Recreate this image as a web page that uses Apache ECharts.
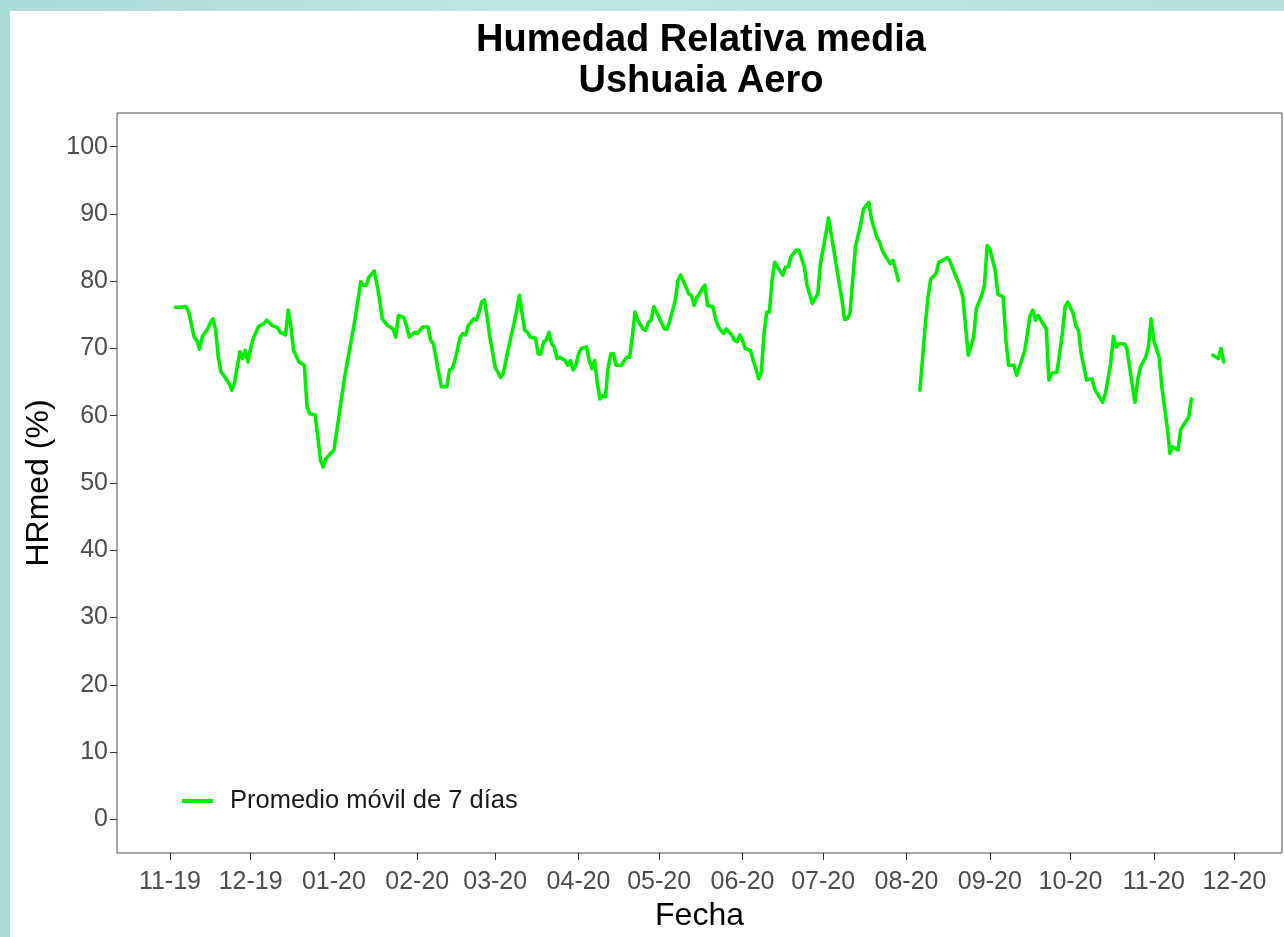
<!DOCTYPE html>
<html>
<head>
<meta charset="utf-8">
<script src="https://cdn.jsdelivr.net/npm/echarts@6/dist/echarts.min.js"></script>
<style>
  html, body { margin: 0; padding: 0; }
  body {
    width: 1284px; height: 937px; overflow: hidden;
    background: linear-gradient(90deg, #a9dcd7 0%, #bfe6e2 40%, #b4e1dc 100%);
  }
  #chart {
    position: absolute; left: 10px; top: 11px;
    width: 1274px; height: 926px; background: #ffffff;
  }
</style>
</head>
<body>
<div id="chart"></div>
<script>
// Humedad relativa media diaria, promedio móvil de 7 días (Ushuaia Aero)
const fechas = [
  '2019-11-03','2019-11-07','2019-11-08','2019-11-10','2019-11-11','2019-11-12','2019-11-13','2019-11-15',
  '2019-11-16','2019-11-17','2019-11-18','2019-11-19','2019-11-20','2019-11-21','2019-11-23','2019-11-24',
  '2019-11-25','2019-11-26','2019-11-27','2019-11-28','2019-11-29','2019-11-30',
  '2019-12-01','2019-12-02','2019-12-04','2019-12-06','2019-12-07','2019-12-09','2019-12-11','2019-12-12',
  '2019-12-14','2019-12-15','2019-12-16','2019-12-17','2019-12-19','2019-12-21','2019-12-22','2019-12-23',
  '2019-12-25','2019-12-26','2019-12-27','2019-12-28','2019-12-29','2019-12-31',
  '2020-01-01','2020-01-02','2020-01-03','2020-01-05','2020-01-07','2020-01-09','2020-01-11','2020-01-12',
  '2020-01-13','2020-01-14','2020-01-16','2020-01-17','2020-01-18','2020-01-19','2020-01-21','2020-01-23',
  '2020-01-24','2020-01-25','2020-01-27','2020-01-28','2020-01-29','2020-01-31',
  '2020-02-01','2020-02-03','2020-02-05','2020-02-06','2020-02-07','2020-02-09','2020-02-10','2020-02-12',
  '2020-02-13','2020-02-14','2020-02-15','2020-02-17','2020-02-18','2020-02-19','2020-02-20','2020-02-22',
  '2020-02-23','2020-02-24','2020-02-25','2020-02-26','2020-02-27','2020-02-28',
  '2020-03-01','2020-03-03','2020-03-04','2020-03-06','2020-03-08','2020-03-09','2020-03-10','2020-03-11',
  '2020-03-12','2020-03-13','2020-03-14','2020-03-16','2020-03-17','2020-03-18','2020-03-19','2020-03-20',
  '2020-03-21','2020-03-22','2020-03-23','2020-03-24','2020-03-25','2020-03-27','2020-03-28','2020-03-29',
  '2020-03-30','2020-03-31',
  '2020-04-01','2020-04-02','2020-04-04','2020-04-05','2020-04-06','2020-04-07','2020-04-08','2020-04-09',
  '2020-04-10','2020-04-11','2020-04-12','2020-04-13','2020-04-14','2020-04-15','2020-04-17','2020-04-18',
  '2020-04-19','2020-04-20','2020-04-21','2020-04-22','2020-04-23','2020-04-25','2020-04-26','2020-04-27',
  '2020-04-28','2020-04-29','2020-04-30',
  '2020-05-02','2020-05-03','2020-05-04','2020-05-05','2020-05-06','2020-05-07','2020-05-08','2020-05-09',
  '2020-05-11','2020-05-12','2020-05-13','2020-05-14','2020-05-15','2020-05-16','2020-05-17','2020-05-18',
  '2020-05-19','2020-05-21','2020-05-22','2020-05-23','2020-05-24','2020-05-25','2020-05-26','2020-05-28',
  '2020-05-29','2020-05-30','2020-05-31',
  '2020-06-01','2020-06-02','2020-06-04','2020-06-05','2020-06-06','2020-06-07','2020-06-08','2020-06-09',
  '2020-06-10','2020-06-11','2020-06-12','2020-06-13','2020-06-14','2020-06-16','2020-06-17','2020-06-18',
  '2020-06-19','2020-06-21','2020-06-22','2020-06-24','2020-06-25','2020-06-27','2020-06-29','2020-06-30',
  '2020-07-02','2020-07-03','2020-07-04','2020-07-06','2020-07-08','2020-07-09','2020-07-10','2020-07-11',
  '2020-07-12','2020-07-13','2020-07-15','2020-07-16','2020-07-18','2020-07-19','2020-07-21','2020-07-22',
  '2020-07-23','2020-07-24','2020-07-26','2020-07-27','2020-07-28','2020-07-29','2020-07-30',
  '2020-08-06','2020-08-08','2020-08-09','2020-08-10','2020-08-12','2020-08-13','2020-08-15','2020-08-16',
  '2020-08-17','2020-08-19','2020-08-21','2020-08-22','2020-08-23','2020-08-24','2020-08-26','2020-08-27',
  '2020-08-29','2020-08-30','2020-08-31',
  '2020-09-01','2020-09-03','2020-09-04','2020-09-06','2020-09-07','2020-09-08','2020-09-10','2020-09-11',
  '2020-09-12','2020-09-14','2020-09-16','2020-09-17','2020-09-18','2020-09-19','2020-09-20','2020-09-22',
  '2020-09-23','2020-09-24','2020-09-26','2020-09-28','2020-09-29','2020-09-30',
  '2020-10-02','2020-10-03','2020-10-04','2020-10-05','2020-10-07','2020-10-09','2020-10-10','2020-10-11',
  '2020-10-13','2020-10-14','2020-10-16','2020-10-17','2020-10-18','2020-10-19','2020-10-21','2020-10-22',
  '2020-10-23','2020-10-25','2020-10-26','2020-10-27','2020-10-29','2020-10-30','2020-10-31',
  '2020-11-01','2020-11-03','2020-11-04','2020-11-06','2020-11-07','2020-11-08','2020-11-10','2020-11-11',
  '2020-11-12','2020-11-14','2020-11-15','2020-11-16',
  '2020-11-23','2020-11-25','2020-11-26','2020-11-27'
];

const hrmed = [
  76.1, 76.2, 75.4, 71.7, 71.2, 69.9, 71.7, 72.9,
  73.8, 74.4, 72.7, 68.7, 66.5, 66.0, 64.8, 63.8,
  64.8, 67.2, 69.5, 68.5, 69.7, 68.0,
  70.0, 71.5, 73.3, 73.7, 74.2, 73.4, 73.1, 72.4,
  72.0, 75.7, 73.2, 69.7, 68.0, 67.5, 61.3, 60.3,
  60.1, 56.9, 53.4, 52.4, 53.6, 54.5,
  54.9, 57.6, 60.3, 65.8, 70.2, 74.7, 79.9, 79.4,
  79.4, 80.6, 81.5, 79.6, 77.2, 74.4, 73.4, 72.9,
  71.7, 74.9, 74.6, 73.4, 71.7, 72.4,
  72.2, 73.2, 73.2, 71.2, 70.7, 66.3, 64.3, 64.3,
  66.8, 67.0, 68.2, 71.7, 72.2, 72.0, 73.4, 74.4,
  74.2, 75.4, 76.9, 77.2, 74.7, 71.7,
  67.2, 65.7, 66.3, 70.2, 73.7, 75.7, 77.9, 75.2,
  72.7, 72.4, 71.7, 71.5, 69.2, 69.2, 71.0, 71.2,
  72.4, 70.7, 70.2, 68.5, 68.7, 68.2, 67.5, 68.2,
  66.8, 67.5,
  69.2, 70.0, 70.2, 68.2, 67.0, 68.2, 64.8, 62.5,
  63.0, 62.8, 67.2, 69.2, 69.2, 67.5, 67.5, 68.2,
  68.7, 68.7, 71.7, 75.4, 74.2, 72.9, 72.7, 73.9,
  74.2, 76.2, 75.4,
  73.7, 72.9, 72.9, 74.2, 75.7, 77.2, 80.1, 80.9,
  79.1, 78.1, 77.9, 76.4, 77.6, 78.1, 78.9, 79.4,
  76.4, 76.2, 74.4, 73.2, 72.7, 72.2, 72.9, 72.0,
  71.2, 71.0, 72.0,
  71.2, 70.0, 69.7, 68.2, 67.0, 65.5, 66.5, 72.2,
  75.4, 75.4, 80.1, 82.8, 82.1, 80.9, 82.1, 82.1,
  83.6, 84.6, 84.6, 82.1, 79.4, 76.7, 78.1, 82.6,
  87.0, 89.4, 87.0, 82.1, 77.2, 74.3, 74.4, 75.2,
  80.1, 85.1, 88.5, 90.7, 91.7, 89.2, 86.5, 85.8,
  84.6, 83.8, 82.6, 83.1, 81.6, 80.1, null,
  63.8, 73.5, 77.6, 80.3, 81.1, 82.8, 83.2, 83.5,
  83.1, 81.1, 79.1, 77.6, 73.2, 69.0, 71.7, 75.9,
  77.9, 79.4, 85.3,
  84.8, 81.6, 78.1, 77.6, 71.2, 67.5, 67.5, 66.0,
  67.2, 69.7, 74.9, 75.7, 74.2, 74.9, 74.2, 72.9,
  65.3, 66.3, 66.5, 72.2, 76.2, 76.9,
  75.2, 73.4, 72.7, 69.2, 65.3, 65.5, 64.0, 63.3,
  62.0, 63.3, 67.8, 71.8, 70.2, 70.7, 70.7, 70.0,
  67.2, 62.0, 65.3, 67.2, 68.7, 70.2, 74.4,
  71.2, 68.7, 64.3, 58.3, 54.4, 55.4, 54.9, 57.9,
  58.6, 59.8, 62.5, null,
  69.0, 68.5, 70.0, 68.0
];

// Marcas del eje X: primer día de cada mes
const mesesEje = [
  '2019-11-01','2019-12-01','2020-01-01','2020-02-01','2020-03-01','2020-04-01','2020-05-01',
  '2020-06-01','2020-07-01','2020-08-01','2020-09-01','2020-10-01','2020-11-01','2020-12-01'
];
const ticksY = [0, 10, 20, 30, 40, 50, 60, 70, 80, 90, 100];

// Período cubierto por la serie (para la expansión del 5 % del eje)
const inicioSerie = '2019-11-01';
const finSerie = '2020-11-29';

const ts = s => Date.parse(s + 'T00:00:00Z');
const pad2 = n => (n < 10 ? '0' : '') + n;
const serie = fechas.map((f, i) => [ts(f), hrmed[i]]);
const t0 = ts(inicioSerie), t1 = ts(finSerie);
const expansion = (t1 - t0) * 0.05;

const FONT = '"Liberation Sans", Arial, Helvetica, sans-serif';
const chart = echarts.init(document.getElementById('chart'), null, { renderer: 'canvas' });

chart.setOption({
  backgroundColor: '#ffffff',
  animation: false,
  title: {
    text: 'Humedad Relativa media\nUshuaia Aero',
    left: 691,
    top: 9,
    padding: 0,
    textAlign: 'center',
    textStyle: {
      fontFamily: FONT, fontWeight: 'bold', fontSize: 38, lineHeight: 41, color: '#000000'
    }
  },
  legend: {
    left: 172,
    top: 777,
    padding: 0,
    itemWidth: 31,
    itemHeight: 4,
    itemGap: 10,
    icon: 'rect',
    textStyle: { fontFamily: FONT, fontSize: 25.5, color: '#1a1a1a', padding: [0, 0, 0, 12] },
    data: ['Promedio móvil de 7 días']
  },
  grid: {
    left: 107, top: 102, right: 2, bottom: 84,
    show: true, borderColor: '#4d4d4d', borderWidth: 1, backgroundColor: 'transparent',
    containLabel: false
  },
  xAxis: {
    type: 'value',
    min: t0 - expansion,
    max: t1 + expansion,
    name: 'Fecha',
    nameLocation: 'middle',
    nameGap: 45,
    nameTextStyle: { fontFamily: FONT, fontSize: 32, color: '#000000' },
    axisLine: { show: false, onZero: false },
    splitLine: { show: false },
    axisTick: {
      show: true, length: 7, inside: false,
      lineStyle: { color: '#333333', width: 1 },
      customValues: mesesEje.map(ts)
    },
    axisLabel: {
      margin: 17,
      fontFamily: FONT, fontSize: 25, color: '#4d4d4d',
      customValues: mesesEje.map(ts),
      formatter: v => {
        const d = new Date(v);
        return pad2(d.getUTCMonth() + 1) + '-' + pad2(d.getUTCFullYear() % 100);
      }
    }
  },
  yAxis: {
    type: 'value',
    min: -5,
    max: 105,
    name: 'HRmed (%)',
    nameLocation: 'middle',
    nameRotate: 90,
    nameGap: 62,
    nameTextStyle: { fontFamily: FONT, fontSize: 32, color: '#000000' },
    axisLine: { show: false, onZero: false },
    splitLine: { show: false },
    axisTick: {
      show: true, length: 7,
      lineStyle: { color: '#333333', width: 1 },
      customValues: ticksY
    },
    axisLabel: {
      margin: 9,
      fontFamily: FONT, fontSize: 25, color: '#4d4d4d',
      customValues: ticksY
    }
  },
  series: [{
    name: 'Promedio móvil de 7 días',
    type: 'line',
    data: serie,
    showSymbol: false,
    symbol: 'none',
    connectNulls: false,
    lineStyle: { color: '#00ee00', width: 3.6, join: 'round', cap: 'round' },
    itemStyle: { color: '#00ee00' }
  }]
});
</script>
</body>
</html>
